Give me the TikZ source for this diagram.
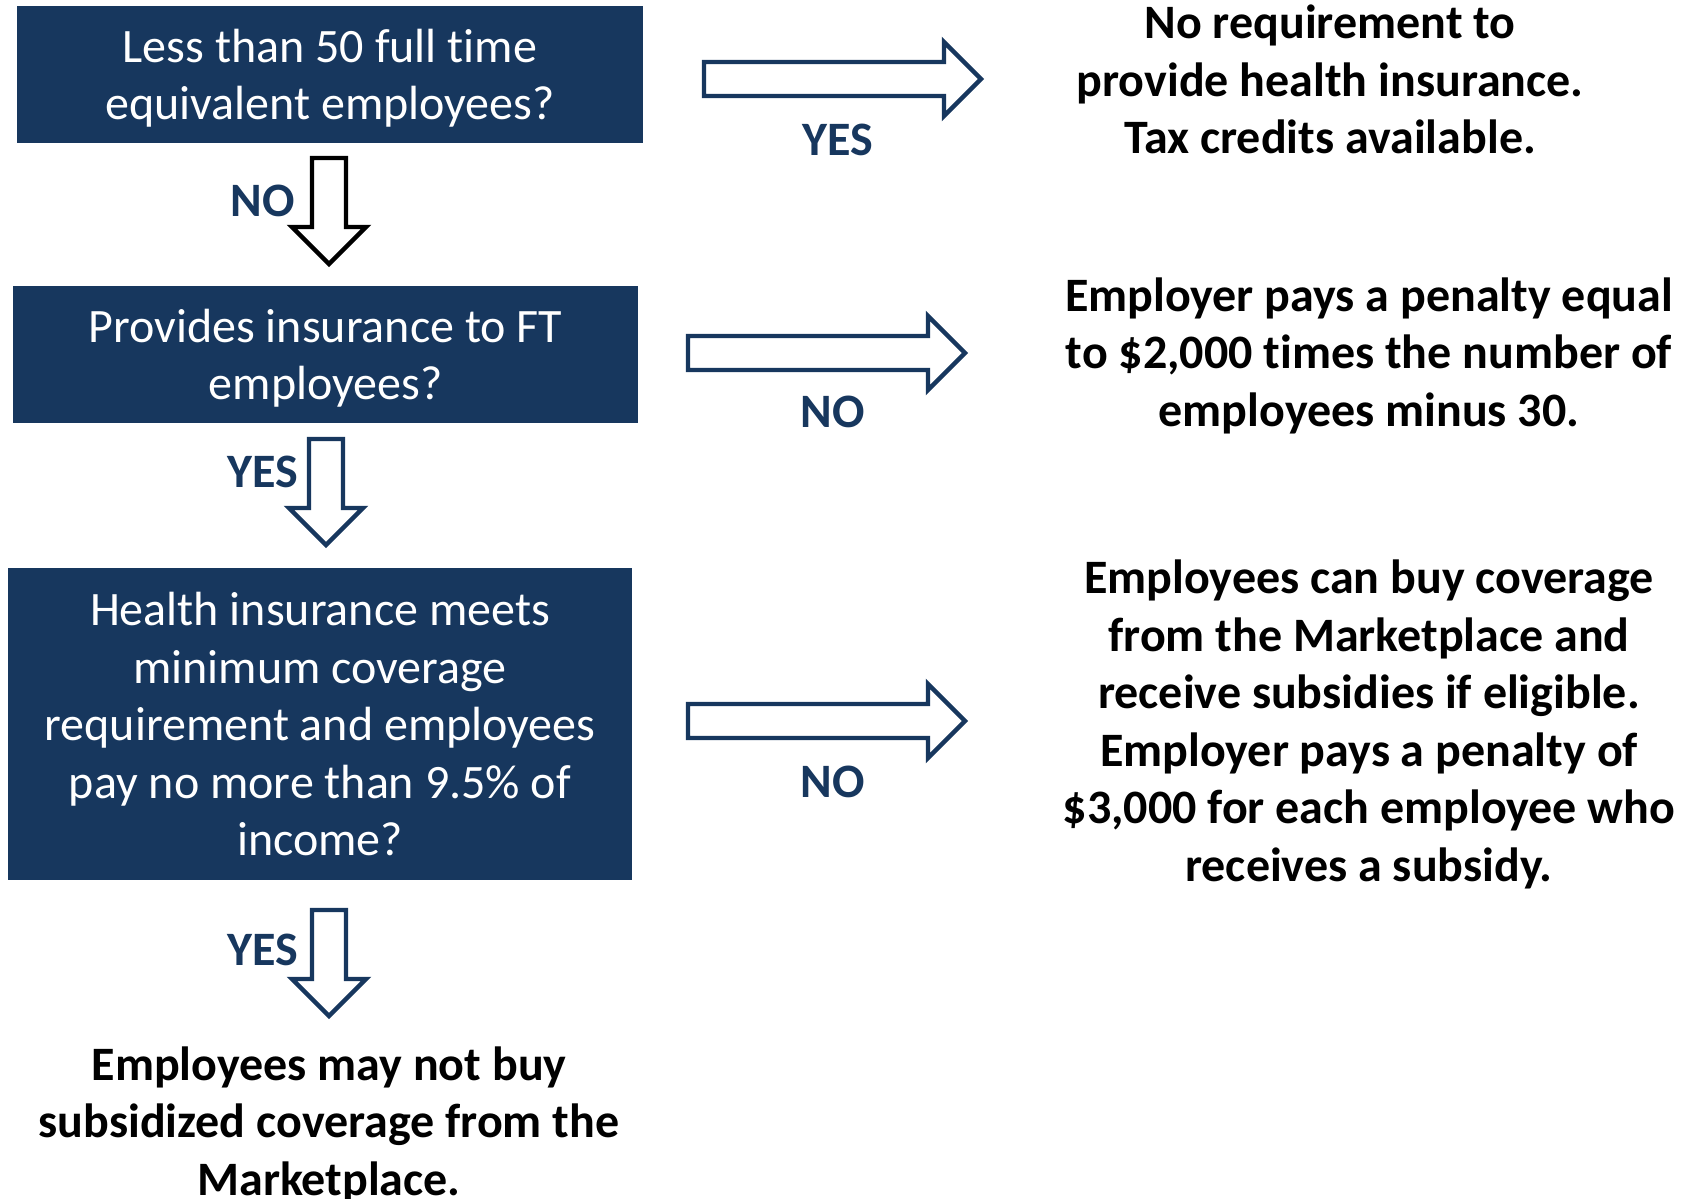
\documentclass[tikz,border=0pt]{standalone}
\usepackage{fontspec}
\setmainfont{Carlito}[Ligatures=NoCommon]
\definecolor{navy}{HTML}{17375E}
\begin{document}
\begin{tikzpicture}[x=0.5pt,y=-0.5pt,
  every node/.style={text depth=0pt},
  qbox/.style={fill=navy, text=white, align=center, inner sep=0pt,
    font=\fontsize{24}{28.75}\selectfont},
  outcome/.style={align=center, inner sep=0pt,
    font=\bfseries\fontsize{24}{28.75}\selectfont},
  lbl/.style={text=navy, inner sep=0pt, font=\bfseries\fontsize{24}{28}\selectfont},
  blk/.style={line width=2.2pt, fill=white, line join=miter},
  pics/downarr/.style={code={
    \draw[blk,draw=#1] (-17,0) -- (17,0) -- (17,69) -- (37,69) -- (0,106)
      -- (-37,69) -- (-17,69) -- cycle;}},
  pics/rightarr/.style={code={
    \draw[blk,draw=#1] (0,-17) -- (240,-17) -- (240,-37) -- (277,0)
      -- (240,37) -- (240,17) -- (0,17) -- cycle;}},
]
\useasboundingbox (0,0) rectangle (1688,1199);

% question boxes
\node[qbox, minimum width=313pt, minimum height=68.5pt] (q1) at (330,74.5)
  {Less than 50 full time\\equivalent employees?};
\node[qbox, minimum width=312.5pt, minimum height=68.5pt] (q2) at (325.5,354.5)
  {Provides insurance to FT\\employees?};
\node[qbox, minimum width=312pt, minimum height=156pt] (q3) at (320,724)
  {Health insurance meets\\minimum coverage\\requirement and employees\\pay no more than 9.5\% of\\income?};

% outcomes
\node[outcome] (o1) at (1330,79.5)
  {No requirement to\\provide health insurance.\\Tax credits available.};
\node[outcome] (o2) at (1369,352)
  {Employer pays a penalty equal\\to \$2,000 times the number of\\employees minus 30.};
\node[outcome] (o3) at (1369,720.5)
  {Employees can buy coverage\\from the Marketplace and\\receive subsidies if eligible.\\Employer pays a penalty of\\\$3,000 for each employee who\\receives a subsidy.};
\node[outcome] (o4) at (329,1121)
  {Employees may not buy\\subsidized coverage from the\\Marketplace.};

% block arrows
\pic (d1) at (329,158) {downarr=black};
\pic (d2) at (326,439) {downarr=navy};
\pic (d3) at (329,910) {downarr=navy};
\pic (r1) at (704,79) {rightarr=navy};
\pic (r2) at (688,353) {rightarr=navy};
\pic (r3) at (688,721) {rightarr=navy};

% branch labels
\node[lbl] (l1) at (263,201) {NO};
\node[lbl] (l2) at (263,472) {YES};
\node[lbl] (l3) at (263,950) {YES};
\node[lbl] (l4) at (838,140) {YES};
\node[lbl] (l5) at (833,412) {NO};
\node[lbl] (l6) at (833,782) {NO};
\end{tikzpicture}
\end{document}
